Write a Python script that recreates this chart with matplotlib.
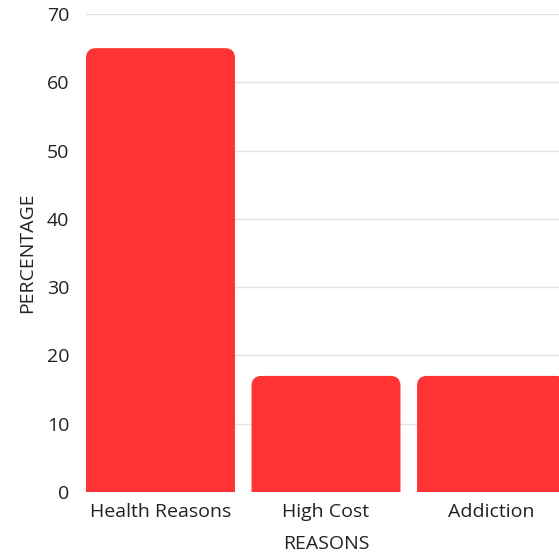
import matplotlib.pyplot as plt
from matplotlib.patches import FancyBboxPatch

reasons = ['Health Reasons', 'High Cost', 'Addiction']
percentages = [65, 17, 17]
y_ticks = [0, 10, 20, 30, 40, 50, 60, 70]

plt.rcParams['font.family'] = ['Open Sans', 'DejaVu Sans']

fig = plt.figure(figsize=(5.59, 5.54), dpi=100)
# axes runs past the right edge, like the reference crop
ax = fig.add_axes([86 / 559, 62 / 554, 480 / 559, 478 / 554])

bars = ax.bar(reasons, percentages, width=0.9, color='#FF3333')
ax.set_xlim(-0.45, 2.45)
ax.set_ylim(0, 70)

# swap plain bars for ones with rounded tops
fig.canvas.draw()
x_px = ax.transData.transform((1, 0))[0] - ax.transData.transform((0, 0))[0]
y_px = ax.transData.transform((0, 1))[1] - ax.transData.transform((0, 0))[1]
r = 10 / x_px
for b in bars:
    x, w, h = b.get_x(), b.get_width(), b.get_height()
    b.set_visible(False)
    box = FancyBboxPatch((x + r, -3), w - 2 * r, h + 3 - r * x_px / y_px,
                         boxstyle=f'round,pad={r},rounding_size={r}',
                         mutation_aspect=x_px / y_px,
                         facecolor='#FF3333', edgecolor='none', zorder=3)
    ax.add_patch(box)

ax.set_yticks(y_ticks)
ax.grid(axis='y', color='#E3E3E3', linewidth=1)
ax.set_axisbelow(True)
for s in ax.spines.values():
    s.set_visible(False)
ax.tick_params(length=0, labelsize=14, colors='#222222')
ax.tick_params(axis='y', pad=12)
ax.tick_params(axis='x', pad=8)
ax.set_xlabel('REASONS', fontsize=14, color='#222222', labelpad=10)
ax.set_ylabel('PERCENTAGE', fontsize=14, color='#222222', labelpad=8)

fig.savefig('out.png', dpi=100)
